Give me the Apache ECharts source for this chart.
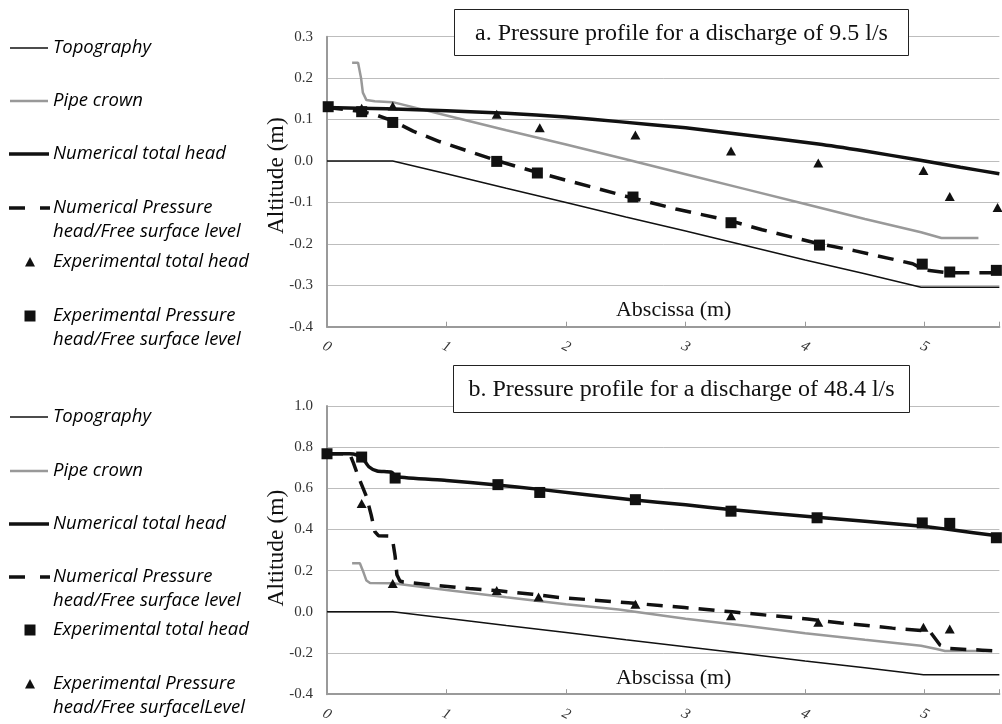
<!DOCTYPE html>
<html><head><meta charset="utf-8">
<script src="https://cdn.jsdelivr.net/npm/echarts@6/dist/echarts.min.js"></script>
<style>html,body{margin:0;padding:0;background:#fff}#c{width:1002px;height:724px}</style>
</head><body><div id="c"></div>
<script>
// ---------- Chart a: discharge 9.5 l/s ----------
const titleA = 'a. Pressure profile for a discharge of 9.5 l/s';
const topographyA = [[0,0],[0.55,0],[1,-0.031],[1.5,-0.066],[2,-0.1],[2.5,-0.135],[3,-0.169],[3.5,-0.204],[4,-0.239],[4.5,-0.272],[4.97,-0.305],[5.625,-0.305]];
const pipeCrownA = [[0.21,0.237],[0.26,0.237],[0.285,0.2],[0.3,0.165],[0.33,0.147],[0.4,0.144],[0.55,0.142],[1,0.11],[1.5,0.074],[2,0.04],[2.5,0.004],[3,-0.032],[3.5,-0.068],[4,-0.104],[4.5,-0.14],[4.97,-0.172],[5.14,-0.186],[5.45,-0.186]];
const numTotalA = [[0,0.129],[0.5,0.126],[1,0.121],[1.5,0.115],[2,0.106],[2.44,0.095],[3,0.08],[3.38,0.067],[4.11,0.041],[4.5,0.024],[4.94,0.003],[5.3,-0.015],[5.625,-0.031]];
const numPressureA = [[0,0.129],[0.28,0.12],[0.4,0.112],[0.55,0.097],[0.72,0.072],[0.94,0.047],[1.22,0.02],[1.42,0.001],[1.75,-0.027],[2.5,-0.085],[2.92,-0.116],[3.37,-0.144],[3.64,-0.166],[4.09,-0.198],[4.42,-0.217],[4.7,-0.235],[4.9,-0.248],[5.0,-0.263],[5.2,-0.27],[5.625,-0.27]];
const expTotalA = [[0.29,0.127],[0.55,0.133],[1.42,0.113],[1.78,0.08],[2.58,0.063],[3.38,0.024],[4.11,-0.005],[4.99,-0.023],[5.21,-0.086],[5.61,-0.112]];
const expPressureA = [[0.01,0.131],[0.29,0.119],[0.55,0.093],[1.42,-0.001],[1.76,-0.029],[2.56,-0.087],[3.38,-0.149],[4.12,-0.203],[4.98,-0.249],[5.21,-0.268],[5.6,-0.264]];
const legendA = ['Topography','Pipe crown','Numerical total head',['Numerical Pressure','head/Free surface level'],'Experimental total head',['Experimental Pressure','head/Free surface level']];

// ---------- Chart b: discharge 48.4 l/s ----------
const titleB = 'b. Pressure profile for a discharge of 48.4 l/s';
const topographyB = [[0,0],[0.55,0],[1,-0.031],[1.5,-0.066],[2,-0.1],[2.5,-0.135],[3,-0.169],[3.5,-0.204],[4,-0.239],[4.5,-0.272],[4.99,-0.305],[5.625,-0.305]];
const pipeCrownB = [[0.21,0.236],[0.275,0.236],[0.3,0.2],[0.33,0.152],[0.36,0.14],[0.55,0.139],[1,0.106],[1.5,0.071],[2,0.037],[2.44,0.012],[3,-0.033],[3.5,-0.068],[4,-0.104],[4.5,-0.136],[4.97,-0.165],[5.1,-0.18],[5.17,-0.19],[5.5,-0.19]];
const numTotalB = [[0,0.768],[0.19,0.768],[0.25,0.762],[0.3,0.745],[0.35,0.705],[0.42,0.684],[0.54,0.678],[0.58,0.656],[1,0.638],[1.4,0.618],[1.78,0.595],[2.53,0.546],[3,0.52],[3.37,0.497],[4.1,0.46],[4.5,0.44],[4.98,0.416],[5.21,0.4],[5.625,0.368]];
const numPressureB = [[0,0.768],[0.19,0.768],[0.22,0.725],[0.26,0.66],[0.33,0.56],[0.37,0.47],[0.4,0.39],[0.43,0.37],[0.52,0.368],[0.55,0.345],[0.57,0.27],[0.585,0.18],[0.61,0.15],[0.64,0.145],[0.91,0.129],[1.19,0.113],[1.44,0.102],[1.72,0.086],[1.94,0.07],[2.22,0.058],[2.52,0.044],[2.99,0.021],[3.39,0.0],[4.02,-0.035],[4.3,-0.054],[4.73,-0.079],[4.97,-0.09],[5.05,-0.1],[5.13,-0.162],[5.2,-0.178],[5.48,-0.186],[5.625,-0.19]];
const expTotalB = [[0,0.768],[0.29,0.752],[0.57,0.65],[1.43,0.618],[1.78,0.58],[2.58,0.545],[3.38,0.489],[4.1,0.457],[4.98,0.432],[5.21,0.43],[5.6,0.36]];
const expPressureB = [[0.29,0.526],[0.55,0.138],[1.42,0.104],[1.77,0.072],[2.58,0.037],[3.38,-0.019],[4.11,-0.051],[4.99,-0.075],[5.21,-0.083]];
const legendB = ['Topography','Pipe crown','Numerical total head',['Numerical Pressure','head/Free surface level'],'Experimental total head',['Experimental Pressure','head/Free surfacelLevel']];

// axis ranges / names
const yRangeA = {min:-0.4, max:0.3, interval:0.1};
const yRangeB = {min:-0.4, max:1.0, interval:0.2};
const xRange = {min:0, max:5.625, interval:1};
const yName = 'Altitude (m)';
const xName = 'Abscissa (m)';

const SERIF = '"Liberation Serif","Times New Roman",serif';
const SANS = '"Open Sans","Noto Sans",sans-serif';
const INK = '#111';

const chart = echarts.init(document.getElementById('c'));

function yAxisDef(idx, r, shiftUp){
  return {
    type:'value', gridIndex:idx, min:r.min, max:r.max, interval:r.interval,
    name:yName, nameLocation:'middle', nameGap:50, nameMoveOverlap:false,
    nameTextStyle:{fontFamily:SERIF, fontSize:23.5, color:INK, verticalAlign:'middle', padding:[0,0,0,shiftUp*2]},
    axisLine:{show:true, onZero:false, lineStyle:{color:'#9a9a9a', width:2}},
    axisTick:{show:false},
    axisLabel:{fontFamily:SERIF, fontSize:15, color:'#333', margin:14,
      formatter:v=>Math.abs(v)<1e-9?'0.0':v.toFixed(1)},
    splitLine:{show:true, lineStyle:{color:'#bdbdbd', width:1}}
  };
}
function xAxisDef(idx){
  return {
    type:'value', gridIndex:idx, min:xRange.min, max:xRange.max, interval:xRange.interval,
    name:xName, nameLocation:'middle', nameGap:-16, nameMoveOverlap:false,
    nameTextStyle:{fontFamily:SERIF, fontSize:22, color:INK, verticalAlign:'middle', padding:[0,0,0,21]},
    axisLine:{show:true, onZero:false, lineStyle:{color:'#9a9a9a', width:2}},
    axisTick:{show:true, inside:true, length:5, lineStyle:{color:'#9a9a9a', width:1}},
    axisLabel:{fontFamily:SERIF, fontSize:15, fontStyle:'italic', color:'#333', rotate:-28,
      align:'center', verticalAlign:'middle', margin:20,
      formatter:v=>Math.abs(v-Math.round(v))<1e-9?String(Math.round(v)):''},
    splitLine:{show:false}
  };
}
function seriesFor(idx, topo, pipe, tot, pres, triData, sqData){
  const base = {xAxisIndex:idx, yAxisIndex:idx, animation:false};
  return [
    Object.assign({type:'line', data:topo, symbol:'none', lineStyle:{color:INK, width:1.5}, z:2}, base),
    Object.assign({type:'line', data:pipe, symbol:'none', lineStyle:{color:'#999', width:2.5}, z:3}, base),
    Object.assign({type:'line', data:pres, symbol:'none', lineStyle:{color:INK, width:3.5, type:[16,10]}, z:4}, base),
    Object.assign({type:'line', data:tot, symbol:'none', smooth:0.2, lineStyle:{color:INK, width:3.5}, z:5}, base),
    Object.assign({type:'scatter', data:triData, symbol:'triangle', symbolSize:[10,9], itemStyle:{color:INK, opacity:1}, z:6}, base),
    Object.assign({type:'scatter', data:sqData, symbol:'rect', symbolSize:11, itemStyle:{color:INK, opacity:1}, z:7}, base)
  ];
}

// legend graphics
function legendGraphics(labels, ys, kinds){
  const g = [];
  const tstyle = {fontFamily:SANS, fontSize:18.5, fontStyle:'italic', fill:'#000', verticalAlign:'middle', align:'left'};
  labels.forEach((lab, i)=>{
    const y = ys[i], k = kinds[i];
    if (k==='thin') g.push({type:'line', shape:{x1:10,y1:y,x2:48,y2:y}, style:{stroke:INK, lineWidth:1.5}, z:100});
    if (k==='gray') g.push({type:'line', shape:{x1:10,y1:y,x2:48,y2:y}, style:{stroke:'#999', lineWidth:2.5}, z:100});
    if (k==='thick') g.push({type:'line', shape:{x1:9,y1:y,x2:49,y2:y}, style:{stroke:INK, lineWidth:3.5}, z:100});
    if (k==='dash') g.push({type:'line', shape:{x1:9,y1:y,x2:50,y2:y}, style:{stroke:INK, lineWidth:3.5, lineDash:[16,15]}, z:100});
    if (k==='tri') g.push({type:'polygon', shape:{points:[[25,y+4.5],[35,y+4.5],[30,y-5]]}, style:{fill:INK}, z:100});
    if (k==='sq') g.push({type:'rect', shape:{x:24.5,y:y-5.5,width:11,height:11}, style:{fill:INK}, z:100});
    const lines = Array.isArray(lab)?lab:[lab];
    lines.forEach((t, j)=>{
      g.push({type:'text', x:53, y:y+j*24, style:Object.assign({text:t}, tstyle), z:100});
    });
  });
  return g;
}
function titleBox(x, y, w, h, text){
  return [
    {type:'rect', shape:{x:x, y:y, width:w, height:h}, style:{fill:'#fff', stroke:'#222', lineWidth:1}, z:100},
    {type:'text', x:x+w/2, y:y+h/2+1, style:{text:text, fontFamily:SERIF, fontSize:24, fill:INK, align:'center', verticalAlign:'middle'}, z:101}
  ];
}

const graphics = [].concat(
  legendGraphics(legendA, [48,101,154,208,262,316], ['thin','gray','thick','dash','tri','sq']),
  legendGraphics(legendB, [417,471,524,577,630,684], ['thin','gray','thick','dash','sq','tri']),
  titleBox(454.5, 9.5, 454, 46, titleA),
  titleBox(453.5, 365.5, 456, 47, titleB)
);

chart.setOption({
  animation:false,
  backgroundColor:'#fff',
  grid:[
    {left:327, top:36.7, width:675, height:290},
    {left:327, top:406, width:675, height:289.5}
  ],
  xAxis:[xAxisDef(0), xAxisDef(1)],
  yAxis:[yAxisDef(0, yRangeA, 6), yAxisDef(1, yRangeB, 2)],
  series:[].concat(
    seriesFor(0, topographyA, pipeCrownA, numTotalA, numPressureA, expTotalA, expPressureA),
    seriesFor(1, topographyB, pipeCrownB, numTotalB, numPressureB, expPressureB, expTotalB)
  ),
  graphic:graphics
});
</script></body></html>
